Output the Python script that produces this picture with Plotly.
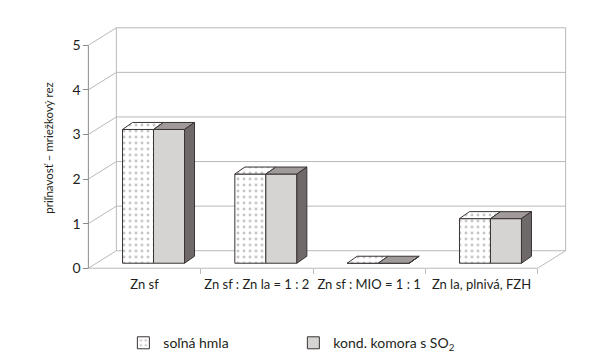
import plotly.graph_objects as go

# ---- data ----
categories = ["Zn sf", "Zn sf : Zn la = 1 : 2", "Zn sf : MIO = 1 : 1", "Zn la, plnivá, FZH"]
salt_fog = [3, 2, 0, 1]
so2_chamber = [3, 2, 0, 1]
y_ticks = [0, 1, 2, 3, 4, 5]
series_names = ["soľná hmla", "kond. komora s SO<sub>2</sub>"]

# ---- geometry (pixel scale helpers) ----
PXX = 112.3   # px per category unit
PXY = 44.6    # px per value unit
DX, DY = 28 / PXX, 17.5 / PXY      # depth of 3-D box
FX, FY = 9 / PXX, 5 / PXY          # bar front shift into depth
BDX, BDY = 10 / PXX, 7 / PXY       # bar depth
BW = 31 / PXX                      # bar width
NCAT = len(categories)
YMAX = max(y_ticks)

x0, x1 = -0.03, NCAT + DX + 0.03
y0, y1 = -0.04, YMAX + DY + 0.04
W = (x1 - x0) * PXX
H = (y1 - y0) * PXY
ML = 88 + x0 * PXX
MR = 600 - ML - W
MB = 364 - (268 - y0 * PXY)
MT = 364 - MB - H

FONT = "Lato"
TXT = "#231f20"
OUT = "#3a3434"
WALL = "#b9b9b9"
AXC = "#8a8a8a"

fig = go.Figure()

# front faces as bars
centers = [i + 0.5 for i in range(NCAT)]
dot_pattern = dict(shape=".", fgcolor="#8c8c8c", bgcolor="white", size=6, solidity=0.18)
fig.add_trace(go.Bar(
    x=centers, y=salt_fog, base=FY, width=BW, offset=FX - BW, name=series_names[0],
    marker=dict(color="white", pattern=dot_pattern, line=dict(color=OUT, width=1)),
    hoverinfo="skip"))
fig.add_trace(go.Bar(
    x=centers, y=so2_chamber, base=FY, width=BW, offset=FX, name=series_names[1],
    marker=dict(color="#d6d3d3", line=dict(color=OUT, width=1)),
    hoverinfo="skip"))


def top_faces(values, left_off):
    xs, ys = [], []
    for c, v in zip(centers, values):
        xl = c + left_off
        xr = xl + BW
        t = FY + v
        xs += [xl, xr, xr + BDX, xl + BDX, xl, None]
        ys += [t, t, t + BDY, t + BDY, t, None]
    return xs, ys


def side_faces(values, left_off):
    xs, ys = [], []
    for c, v in zip(centers, values):
        xr = c + left_off + BW
        t = FY + v
        xs += [xr, xr, xr + BDX, xr + BDX, xr, None]
        ys += [FY, t, t + BDY, FY + BDY, FY, None]
    return xs, ys


xs, ys = top_faces(salt_fog, FX - BW)
fig.add_trace(go.Scatter(x=xs, y=ys, mode="lines", fill="toself", fillcolor="white",
                         fillpattern=dot_pattern, line=dict(color=OUT, width=1),
                         showlegend=False, hoverinfo="skip"))
xs, ys = top_faces(so2_chamber, FX)
fig.add_trace(go.Scatter(x=xs, y=ys, mode="lines", fill="toself", fillcolor="#a09a9a",
                         line=dict(color=OUT, width=1), showlegend=False, hoverinfo="skip"))
xs, ys = side_faces(so2_chamber, FX)
fig.add_trace(go.Scatter(x=xs, y=ys, mode="lines", fill="toself", fillcolor="#6f6969",
                         line=dict(color=OUT, width=1), showlegend=False, hoverinfo="skip"))

# walls / grid as background shapes
shapes = []
def seg(xa, ya, xb, yb, color=WALL, w=1):
    shapes.append(dict(type="line", xref="x", yref="y", x0=xa, y0=ya, x1=xb, y1=yb,
                       line=dict(color=color, width=w), layer="below"))

for v in y_ticks:
    seg(DX, v + DY, NCAT + DX, v + DY)        # back wall gridline
    seg(0, v, DX, v + DY)                     # left wall diagonal
seg(DX, DY, DX, YMAX + DY)                    # back-left vertical
seg(NCAT + DX, DY, NCAT + DX, YMAX + DY)      # back-right vertical
seg(0, 0, NCAT, 0)                            # floor front edge
seg(NCAT, 0, NCAT + DX, DY)                   # floor right edge
seg(0, 0, 0, YMAX, color=AXC)                 # value axis line

fig.update_layout(
    width=600, height=364,
    margin=dict(l=ML, r=MR, t=MT, b=MB, autoexpand=False),
    paper_bgcolor="white", plot_bgcolor="white",
    barmode="overlay",
    shapes=shapes,
    font=dict(family=FONT, size=14, color=TXT),
    showlegend=True,
    legend=dict(orientation="h", x=(123 - ML) / W, y=-(343 - (MT + H)) / H,
                xanchor="left", yanchor="middle", entrywidth=125, entrywidthmode="pixels",
                font=dict(family=FONT, size=14, color=TXT), bgcolor="rgba(0,0,0,0)",
                traceorder="normal"),
)

fig.update_xaxes(range=[x0, x1], showgrid=False, zeroline=False, showline=False,
                 tickvals=centers, ticktext=categories, ticks="outside", ticklen=4,
                 tickcolor="rgba(0,0,0,0)", automargin=False, tickangle=0,
                 anchor="free", position=(0 - y0) / (y1 - y0),
                 minor=dict(tickvals=list(range(1, NCAT + 1)), ticks="outside", ticklen=5,
                            tickcolor=WALL, showgrid=False),
                 tickfont=dict(family=FONT, size=13, color=TXT), fixedrange=True)
fig.update_yaxes(range=[y0, y1], showgrid=False, zeroline=False, showline=False,
                 tickvals=y_ticks, ticks="outside", ticklen=5, tickcolor=AXC,
                 anchor="free", position=(0 - x0) / (x1 - x0), automargin=False,
                 title=dict(text="priľnavosť – mriežkový rez", standoff=15,
                            font=dict(family=FONT, size=11.5, color=TXT)),
                 tickfont=dict(family=FONT, size=14, color=TXT), fixedrange=True)

fig.write_html("out.html", config={"displayModeBar": False},
               post_script="document.body.style.margin='0';")
